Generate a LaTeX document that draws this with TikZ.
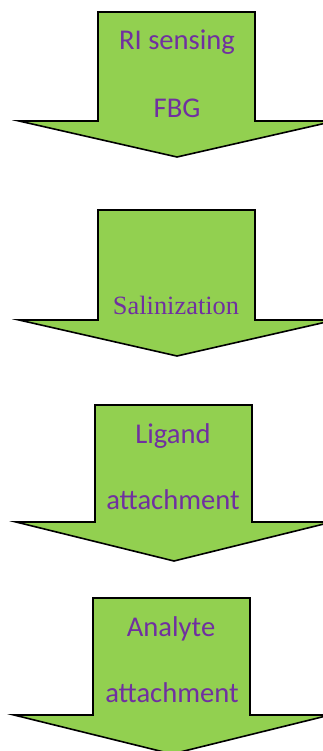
\documentclass[tikz,border=0pt]{standalone}
\usepackage{fontspec}
\setmainfont{Carlito}
\newfontfamily\serifface{Liberation Serif}
\definecolor{arrowgreen}{HTML}{92D050}
\definecolor{textpurple}{HTML}{7030A0}
\begin{document}
\begin{tikzpicture}[x=1pt,y=-1pt,
  bigarrow/.style={fill=arrowgreen,draw=black,line width=1.6pt,line join=miter},
  lbl/.style={anchor=base,inner sep=0pt,text=textpurple,font=\fontsize{28.6}{30}\selectfont},
  slbl/.style={anchor=base,inner sep=0pt,text=textpurple,font=\serifface\fontsize{26.4}{30}\selectfont}]
\useasboundingbox (0,0) rectangle (323,751);
% arrow 1
\draw[bigarrow] (98,12) -- (255,12) -- (255,121) -- (335,121) -- (177,157) -- (19,121) -- (98,121) -- cycle;
% arrow 2
\draw[bigarrow] (98,210) -- (255,210) -- (255,320) -- (335,320) -- (177,356) -- (19,320) -- (98,320) -- cycle;
% arrow 3
\draw[bigarrow] (95,405) -- (252,405) -- (252,522) -- (332,522) -- (174,561) -- (16,522) -- (95,522) -- cycle;
% arrow 4
\draw[bigarrow] (93,598) -- (250,598) -- (250,715) -- (330,715) -- (172,754) -- (14,715) -- (93,715) -- cycle;
\node[lbl] (t1a) at (177,50) {RI sensing};
\node[lbl] (t1b) at (177,118) {FBG};
\node[slbl] (t2) at (176,314) {Salinization};
\node[lbl] (t3a) at (173,443) {Ligand};
\node[lbl] (t3b) at (173,509) {attachment};
\node[lbl] (t4a) at (171,636) {Analyte};
\node[lbl] (t4b) at (172,702) {attachment};
\end{tikzpicture}
\end{document}
